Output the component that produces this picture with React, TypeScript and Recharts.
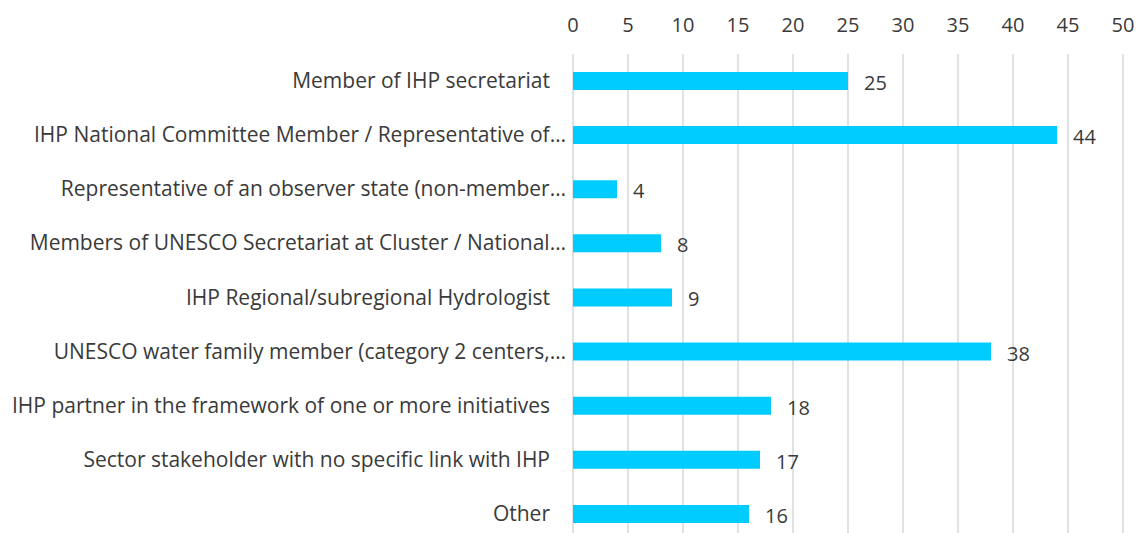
import { BarChart, Bar, XAxis, YAxis, CartesianGrid, LabelList } from 'recharts';

const categories = [
  'Member of IHP secretariat',
  'IHP National Committee Member / Representative of…',
  'Representative of an observer state (non-member…',
  'Members of UNESCO Secretariat at Cluster / National…',
  'IHP Regional/subregional Hydrologist',
  'UNESCO water family member (category 2 centers,…',
  'IHP partner in the framework of one or more initiatives',
  'Sector stakeholder with no specific link with IHP',
  'Other',
];
const counts = [25, 44, 4, 8, 9, 38, 18, 17, 16];
const ticks = [0, 5, 10, 15, 20, 25, 30, 35, 40, 45, 50];

const data = categories.map((name, i) => ({ name, value: counts[i] }));

const FONT = '"Open Sans", sans-serif';
const TEXT = '#3a3a3a';

// truncated labels run right up to the axis, full ones keep a gap
const CategoryTick = (props: any) => {
  const { x, y, payload } = props;
  const cut = String(payload.value).endsWith('…');
  return (
    <text x={cut ? x + 1 : x - 15} y={y} dy={7} textAnchor="end" fontFamily={FONT} fontSize={21} fill={TEXT}>
      {payload.value}
    </text>
  );
};

const NumberTick = (props: any) => {
  const { x, payload } = props;
  return (
    <text x={x} y={32} textAnchor="middle" fontFamily={FONT} fontSize={20} fill={TEXT}>
      {payload.value}
    </text>
  );
};

const ValueLabel = (props: any) => {
  const { x, y, width, height, value } = props;
  return (
    <text x={x + width + 16} y={y + height / 2} dy={9} fontFamily={FONT} fontSize={20} fill={TEXT}>
      {value}
    </text>
  );
};

export default function App() {
  return (
    <div style={{ position: 'absolute', left: 0, top: 0, width: 1138, height: 533, overflow: 'hidden', background: '#fff' }}>
      <BarChart
        width={1138}
        height={560}
        data={data}
        layout="vertical"
        margin={{ top: 24, right: 15, bottom: 19, left: 0 }}
        barSize={18}
      >
        <CartesianGrid horizontal={false} stroke="#d9d9d9" strokeWidth={1.5} />
        <XAxis
          type="number"
          orientation="top"
          domain={[0, 50]}
          ticks={ticks}
          axisLine={false}
          tickLine={false}
          height={30}
          tick={<NumberTick />}
          interval={0}
        />
        <YAxis
          type="category"
          dataKey="name"
          width={573}
          axisLine={false}
          tickLine={false}
          interval={0}
          tick={<CategoryTick />}
        />
        <Bar dataKey="value" fill="#00ccff" isAnimationActive={false}>
          <LabelList dataKey="value" content={<ValueLabel />} />
        </Bar>
      </BarChart>
    </div>
  );
}
